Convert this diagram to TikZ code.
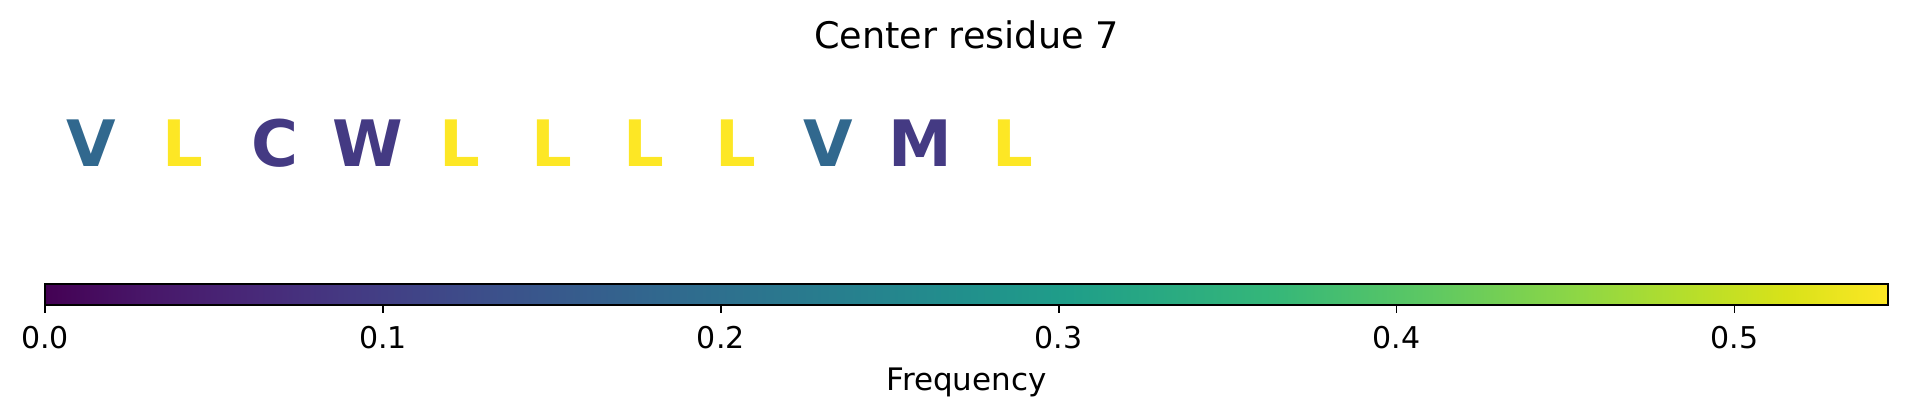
\documentclass[tikz,border=0pt]{standalone}
\usepackage{fontspec}
\setmainfont{DejaVu Sans}
\definecolor{v0}{HTML}{440154}
\definecolor{v1}{HTML}{481769}
\definecolor{v2}{HTML}{482878}
\definecolor{v3}{HTML}{443A83}
\definecolor{v4}{HTML}{3E4A89}
\definecolor{v5}{HTML}{3B528B}
\definecolor{v6}{HTML}{31688E}
\definecolor{v7}{HTML}{26828E}
\definecolor{v8}{HTML}{21908C}
\definecolor{v9}{HTML}{1F9E89}
\definecolor{v10}{HTML}{35B779}
\definecolor{v11}{HTML}{5DC863}
\definecolor{v12}{HTML}{6DCD59}
\definecolor{v13}{HTML}{8FD744}
\definecolor{v14}{HTML}{B4DE2C}
\definecolor{v15}{HTML}{D8E219}
\definecolor{v16}{HTML}{FDE725}
\colorlet{lowc}{v3}
\colorlet{midc}{v6}
\colorlet{highc}{v16}
\pgfdeclarehorizontalshading{viridis}{100bp}{color(0bp)=(v0); color(25bp)=(v0); color(27.78bp)=(v1); color(30.56bp)=(v2); color(33.33bp)=(v3); color(36.11bp)=(v4); color(37.5bp)=(v5); color(41.67bp)=(v6); color(47.22bp)=(v7); color(50bp)=(v8); color(52.78bp)=(v9); color(58.33bp)=(v10); color(62.5bp)=(v11); color(63.89bp)=(v12); color(66.67bp)=(v13); color(69.44bp)=(v14); color(72.22bp)=(v15); color(75bp)=(v16); color(100bp)=(v16)}
\begin{document}
\begin{tikzpicture}[x=0.5pt,y=-0.5pt,
  residue/.style={anchor=base,inner sep=0pt,font=\fontsize{32}{38}\selectfont\bfseries},
  ticklabel/.style={anchor=base,inner sep=0pt,font=\fontsize{15}{18}\selectfont},
  titlelabel/.style={anchor=base,inner sep=0pt,font=\fontsize{18.3}{22}\selectfont},
  axislabel/.style={anchor=base,inner sep=0pt,font=\fontsize{15.5}{18}\selectfont},
  frame/.style={line width=1pt,draw=black}]
\useasboundingbox (0,0) rectangle (1907,416);
\node[titlelabel] (title) at (966.5,49) {Center residue 7};
% residues
\node[residue,text=midc]  (r0)  at (90.8,166.7) {V};
\node[residue,text=highc] (r1)  at (183.0,166.7) {L};
\node[residue,text=lowc]  (r2)  at (275.2,166.7) {C};
\node[residue,text=lowc]  (r3)  at (367.4,166.7) {W};
\node[residue,text=highc] (r4)  at (459.6,166.7) {L};
\node[residue,text=highc] (r5)  at (551.8,166.7) {L};
\node[residue,text=highc] (r6)  at (644.0,166.7) {L};
\node[residue,text=highc] (r7)  at (736.2,166.7) {L};
\node[residue,text=midc]  (r8)  at (828.4,166.7) {V};
\node[residue,text=lowc]  (r9)  at (920.6,166.7) {M};
\node[residue,text=highc] (r10) at (1012.8,166.7) {L};
% colorbar
\shade[shading=viridis] (45,284) rectangle (1888,305);
\draw[frame] (45,284) rectangle (1888,305);
\foreach \v/\lab in {0/0.0,1/0.1,2/0.2,3/0.3,4/0.4,5/0.5}{
  \draw[line width=0.85pt] ({45+337.9*\v},305) -- ({45+337.9*\v},313);
  \node[ticklabel] (t\v) at ({45+337.9*\v},348.7) {\lab};
}
\node[axislabel] (xlabel) at (966.5,391) {Frequency};
\end{tikzpicture}
\end{document}
